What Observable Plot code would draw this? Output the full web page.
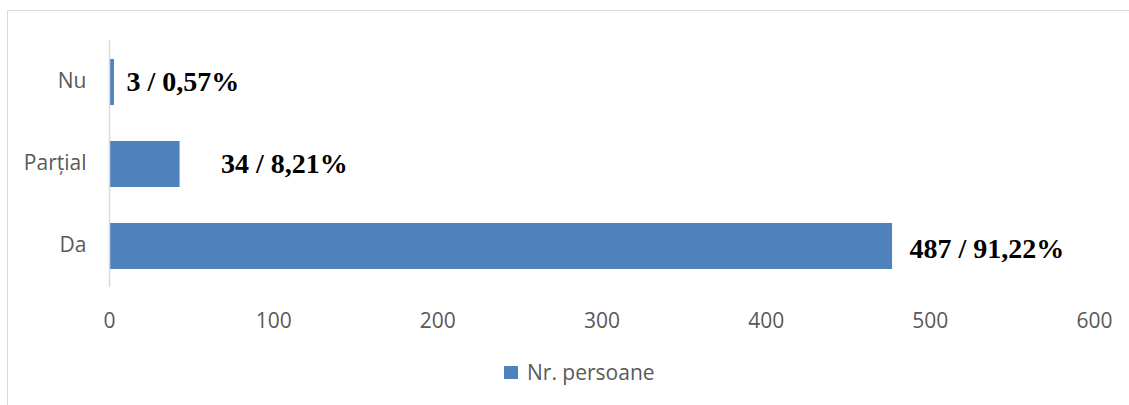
<!DOCTYPE html>
<html>
<head>
<meta charset="utf-8">
<script src="https://cdn.jsdelivr.net/npm/d3@7"></script>
<script src="https://cdn.jsdelivr.net/npm/@observablehq/plot@0.6"></script>
<style>
  html, body { margin: 0; padding: 0; background: #fff; }
  #wrap { position: relative; width: 1129px; height: 405px; overflow: hidden; }
  #frame { position: absolute; left: 7px; top: 10px; width: 1140px; height: 400px; border: 1px solid #d9d9d9; box-sizing: border-box; }
  #chart { position: absolute; left: 0; top: 0; }
  #legend { position: absolute; top: 358px; left: 504px; display: flex; align-items: center; font-family: "Open Sans", sans-serif; font-size: 21px; color: #595959; }
  #legend .sw { width: 14px; height: 13px; background: #4f81bd; margin-right: 9px; }
</style>
</head>
<body>
<div id="wrap">
  <div id="frame"></div>
  <div id="chart"></div>
  <div id="legend"><span class="sw"></span><span>Nr. persoane</span></div>
</div>
<script>
const categories = ["Nu", "Parțial", "Da"];
const values = [3, 43, 477];
const labels = ["3 / 0,57%", "34 / 8,21%", "487 / 91,22%"];
const xTicks = [0, 100, 200, 300, 400, 500, 600];
const seriesName = "Nr. persoane";

const data = categories.map((c, i) => ({cat: c, value: values[i], label: labels[i]}));
const labelFont = {fontFamily: "Liberation Serif, Times New Roman, serif", fontWeight: "bold", fontSize: 28, fill: "#000", textAnchor: "start"};

const chart = Plot.plot({
  width: 1129,
  height: 345,
  marginLeft: 109,
  marginRight: 35,
  marginTop: 40,
  marginBottom: 58,
  style: {fontFamily: "Open Sans, sans-serif", fontSize: "21px", color: "#595959", background: "transparent"},
  x: {domain: [0, 600], ticks: xTicks},
  y: {domain: categories, paddingInner: 0.44, paddingOuter: 0.22},
  marks: [
    Plot.barX(data, {y: "cat", x: "value", fill: "#4f81bd"}),
    Plot.ruleX([0], {stroke: "#d9d9d9", strokeWidth: 1.5}),
    Plot.axisX({ticks: xTicks, tickSize: 0, tickPadding: 26, label: null, fill: "#595959", fontSize: 21}),
    Plot.axisY({tickSize: 0, tickPadding: 23, label: null, fill: "#595959", fontSize: 21, dy: -1}),
    Plot.text([data[0]], {y: "cat", x: "value", text: "label", dx: 12, ...labelFont}),
    Plot.text([data[1]], {y: "cat", x: "value", text: "label", dx: 41, ...labelFont}),
    Plot.text([data[2]], {y: "cat", x: "value", text: "label", dx: 17, dy: 3, ...labelFont})
  ]
});
document.getElementById("chart").appendChild(chart);
</script>
</body>
</html>
